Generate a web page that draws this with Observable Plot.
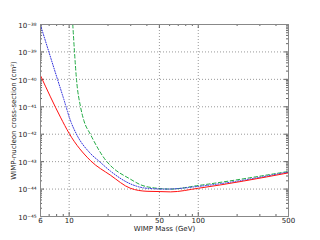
<!DOCTYPE html>
<html><head><meta charset="utf-8">
<script src="https://cdn.jsdelivr.net/npm/d3@7"></script>
<script src="https://cdn.jsdelivr.net/npm/@observablehq/plot@0.6"></script>
<style>html,body{margin:0;padding:0;background:#fff;}</style>
</head><body><div id="chart"></div>
<script>
// WIMP mass (GeV) and cross-section (cm^2) for three limit curves
const redMass = [6, 8.56, 10, 14.6, 20.9, 29.8, 40.1, 50.6, 61, 100, 500];
const redSigma = [1.38e-40, 4.2e-42, 1.07e-42, 1.1e-43, 3.2e-44, 1.07e-44, 8.3e-45, 8.1e-45, 7.9e-45, 1.07e-44, 3.9e-44];

const blueMass = [6, 7, 8, 9, 10.3, 11.4, 14.6, 17.2, 20.9, 29.8, 40, 57, 100, 500];
const blueSigma = [9.5e-39, 9.3e-40, 1.26e-40, 2.2e-41, 2.9e-42, 1.0e-42, 2.0e-43, 1.0e-43, 4.5e-44, 1.55e-44, 1.07e-44, 1.0e-44, 1.25e-44, 4.2e-44];

const greenMass = [10.67, 11.0, 11.4, 12.25, 13.0, 14.6, 19.6, 20.9, 29.8, 35.6, 48, 61, 100, 500];
const greenSigma = [1.0e-38, 1.0e-39, 1.0e-40, 1.0e-41, 3.16e-42, 1.0e-42, 1.0e-43, 7.2e-44, 2.3e-44, 1.45e-44, 1.07e-44, 1.0e-44, 1.35e-44, 4.4e-44];

// tick labels
const xTicks = [6, 10, 50, 100, 500];
const xMinor = [7, 8, 9, 20, 30, 40, 60, 70, 80, 90, 200, 300, 400];
const yExponents = [-45, -44, -43, -42, -41, -40, -39, -38];

const xTitle = "WIMP Mass (GeV)";
const yTitle = "WIMP-nucleon cross-section (cm²)";

const toRows = (ms, ss) => ms.map((m, i) => ({m, s: ss[i]}));
const red = toRows(redMass, redSigma);
const blue = toRows(blueMass, blueSigma);
const green = toRows(greenMass, greenSigma);

const yTicks = yExponents.map(e => Math.pow(10, e));
const yMinor = [];
for (const e of yExponents.slice(0, -1)) for (let k = 2; k <= 9; k++) yMinor.push(k * Math.pow(10, e));

const sup = {"-": "⁻", "0": "⁰", "1": "¹", "2": "²", "3": "³", "4": "⁴", "5": "⁵", "6": "⁶", "7": "⁷", "8": "⁸", "9": "⁹"};
const fmtPow = d => "10" + String(Math.round(Math.log10(d))).split("").map(c => sup[c]).join("");

const W = 320, H = 240, ML = 40, MR = 32, MT = 24, MB = 24;
const FW = W - ML - MR, FH = H - MT - MB;
const tickCol = "#666";
const gridStyle = {stroke: "#999", strokeOpacity: 1, strokeDasharray: "1,2"};

const chart = Plot.plot({
  width: W, height: H,
  marginLeft: ML, marginRight: MR, marginTop: MT, marginBottom: MB,
  style: {fontFamily: "DejaVu Sans", fontSize: "7px", color: "#222", background: "#fff"},
  x: {type: "log", domain: [6, 500], axis: null},
  y: {type: "log", domain: [1e-45, 1e-38], axis: null},
  marks: [
    Plot.ruleX(xTicks.filter(d => d > 6 && d < 500), {x: d => d, ...gridStyle}),
    Plot.ruleY(yTicks.filter(d => d > 1e-45 && d < 1e-38), {y: d => d, ...gridStyle}),
    // tick labels
    Plot.text(xTicks, {x: d => d, frameAnchor: "bottom", lineAnchor: "top", dy: 1.5, text: d => String(d), fill: "#222"}),
    Plot.text(yTicks, {y: d => d, frameAnchor: "left", textAnchor: "end", dx: -4, dy: 1, text: fmtPow, fill: "#222"}),
    // axis titles
    Plot.text([xTitle], {frameAnchor: "bottom", lineAnchor: "middle", dy: 12.5, text: d => d, fill: "#222"}),
    Plot.text([yTitle], {frameAnchor: "left", textAnchor: "middle", lineAnchor: "middle", dx: -27, dy: 0, rotate: -90, text: d => d, fill: "#222"}),
    // inward ticks, matplotlib style
    Plot.tickX(xTicks, {x: d => d, insetTop: FH - 4, stroke: tickCol}),
    Plot.tickX(xTicks, {x: d => d, insetBottom: FH - 4, stroke: tickCol}),
    Plot.tickX(xMinor, {x: d => d, insetTop: FH - 2, stroke: tickCol}),
    Plot.tickX(xMinor, {x: d => d, insetBottom: FH - 2, stroke: tickCol}),
    Plot.tickY(yTicks, {y: d => d, insetRight: FW - 4, stroke: tickCol}),
    Plot.tickY(yTicks, {y: d => d, insetLeft: FW - 4, stroke: tickCol}),
    Plot.tickY(yMinor, {y: d => d, insetRight: FW - 2, stroke: tickCol}),
    Plot.tickY(yMinor, {y: d => d, insetLeft: FW - 2, stroke: tickCol}),
    Plot.line(green, {x: "m", y: "s", stroke: "#22aa44", strokeWidth: 1, strokeDasharray: "3.5,2.5", curve: "monotone-x", clip: true}),
    Plot.line(blue, {x: "m", y: "s", stroke: "#3333dd", strokeWidth: 1, strokeDasharray: "1,1.5", curve: "monotone-x", clip: true}),
    Plot.line(red, {x: "m", y: "s", stroke: "#ff1111", strokeWidth: 1, curve: "monotone-x", clip: true}),
    Plot.frame({stroke: "#888", strokeWidth: 1})
  ]
});
document.getElementById("chart").appendChild(chart);
</script>
</body></html>
